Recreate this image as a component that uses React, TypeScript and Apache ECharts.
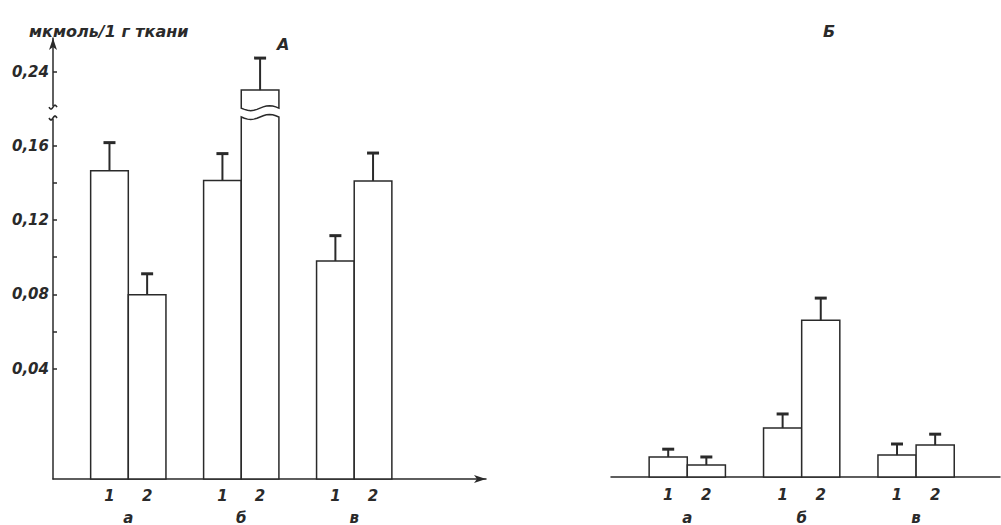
import React, { useEffect, useRef } from "react";
import * as echarts from "echarts";

// Groups and sub-bars
const groups = ["а", "б", "в"];
const subLabels = ["1", "2"];

// Panel А: mean values (мкмоль/1 г ткани) and upper error limits
const valuesA = [0.1465, 0.0798, 0.1412, 0.2303, 0.098, 0.141];
const errTopA = [0.1616, 0.0911, 0.1557, 0.2475, 0.1116, 0.156];

// Panel Б
const valuesB = [0.0108, 0.0065, 0.0264, 0.0845, 0.0118, 0.0172];
const errTopB = [0.015, 0.0108, 0.034, 0.0965, 0.0178, 0.0231];

// Y axis labels / ticks for panel А and its break
const yLabelValues = [0.04, 0.08, 0.12, 0.16, 0.24];
const yTickValues = [0.04, 0.06, 0.08, 0.1, 0.12, 0.14, 0.16, 0.24];
const breakStart = 0.1754;
const breakEnd = 0.2206;

const INK = "#2a2a2a";
const FONT = "'DejaVu Sans', 'Liberation Sans', sans-serif";

const slot = (i: number) => Math.floor(i / 2) * 3 + (i % 2) + 1.5;

function buildBars(vals: number[]) {
  return vals.map((v, i) => [slot(i), v]);
}
function buildErr(vals: number[], tops: number[]) {
  return vals.map((v, i) => [slot(i), v, tops[i]]);
}

const wave = (xl: number, xr: number, y: number, amp: number, n = 12) => {
  const pts: number[][] = [];
  for (let k = 0; k <= n; k++) {
    const t = k / n;
    pts.push([xr - (xr - xl) * t, y - amp * Math.sin(2 * Math.PI * t)]);
  }
  return pts;
};

const makeBarRender = (withBreak: boolean) => (params: any, api: any) => {
  const x = api.value(0);
  const v = api.value(1);
  const cs = params.coordSys;
  const bottom = cs.y + cs.height;
  const w = api.size([1, 0])[0];
  const c = api.coord([x, v]);
  const xl = c[0] - w / 2;
  const xr = c[0] + w / 2;
  const style = { fill: "#fff", stroke: INK, lineWidth: 1.5 };
  if (withBreak && v > breakEnd) {
    const yS = api.coord([x, breakStart])[1];
    const yE = api.coord([x, breakEnd])[1];
    return {
      type: "group",
      children: [
        {
          type: "polygon",
          shape: { points: [[xl, bottom], [xr, bottom], ...wave(xl, xr, yS, 2.5)] },
          style,
        },
        {
          type: "polygon",
          shape: { points: [[xl, c[1]], [xr, c[1]], ...wave(xl, xr, yE, 2.5)] },
          style,
        },
      ],
    };
  }
  return {
    type: "rect",
    shape: { x: xl, y: c[1], width: w, height: bottom - c[1] },
    style,
  };
};

const errRender = (params: any, api: any) => {
  const x = api.value(0);
  const p0 = api.coord([x, api.value(1)]);
  const p1 = api.coord([x, api.value(2)]);
  return {
    type: "group",
    children: [
      {
        type: "line",
        shape: { x1: p0[0], y1: p0[1], x2: p1[0], y2: p1[1] },
        style: { stroke: INK, lineWidth: 2 },
      },
      {
        type: "line",
        shape: { x1: p1[0] - 6, y1: p1[1], x2: p1[0] + 6, y2: p1[1] },
        style: { stroke: INK, lineWidth: 3 },
      },
    ],
  };
};

const axisBreakRender = (params: any, api: any) => {
  const x = api.value(0);
  const pS = api.coord([x, api.value(1)]);
  const pE = api.coord([x, api.value(2)]);
  const tilde = (y: number) => ({
    type: "polyline",
    shape: { points: wave(pS[0] - 4, pS[0] + 4, y, 2, 10) },
    style: { stroke: INK, lineWidth: 1.6, fill: "none" },
  });
  return {
    type: "group",
    children: [
      { type: "rect", shape: { x: pS[0] - 3, y: pE[1] - 2, width: 6, height: pS[1] - pE[1] + 4 }, style: { fill: "#fff" } },
      tilde(pE[1] - 1),
      tilde(pS[1] + 1),
    ],
  };
};

const subLabelAt = (v: number) => {
  const r = ((v - 1.5) % 3 + 3) % 3;
  return subLabels[Math.round(r)] ?? "";
};
const groupAt = (v: number) => groups[Math.round((v - 2) / 3)] ?? "";

const labelStyle = {
  color: INK,
  fontFamily: FONT,
  fontStyle: "italic" as const,
  fontWeight: "bold" as const,
  fontSize: 14,
};

const subCustom = [1.5, 2.5, 4.5, 5.5, 7.5, 8.5];

export default function App() {
  const ref = useRef<HTMLDivElement>(null);
  useEffect(() => {
    if (!ref.current) return;
    const chart = echarts.init(ref.current, null, { renderer: "svg" });
    chart.setOption({
      animation: false,
      backgroundColor: "#fff",
      title: [
        { text: "мкмоль/1 г ткани", left: 24, top: 18, textStyle: { ...labelStyle, fontSize: 16 } },
        { text: "А", left: 272, top: 31, textStyle: { ...labelStyle, fontSize: 16 } },
        { text: "Б", left: 818, top: 18, textStyle: { ...labelStyle, fontSize: 16 } },
      ],
      grid: [
        { left: 53, top: 38, right: 515, bottom: 46 },
        { left: 611, top: 38, right: 1, bottom: 48 },
      ],
      xAxis: [
        {
          gridIndex: 0,
          type: "value",
          min: 0,
          max: 11.5,
          splitLine: { show: false },
          axisTick: { show: false },
          axisLine: { onZero: false, lineStyle: { color: INK, width: 1.5 }, symbol: ["none", "arrow"], symbolSize: [6, 12] },
          axisLabel: { ...labelStyle, fontSize: 15, customValues: subCustom, formatter: (v: number) => subLabelAt(v), margin: 9 },
        },
        {
          gridIndex: 0,
          type: "value",
          min: 0,
          max: 11.5,
          position: "bottom",
          offset: 24,
          splitLine: { show: false },
          axisTick: { show: false },
          axisLine: { show: false, onZero: false },
          axisLabel: { ...labelStyle, fontSize: 15, customValues: [2, 5, 8], formatter: (v: number) => groupAt(v), margin: 7 },
        },
        {
          gridIndex: 1,
          type: "value",
          min: 0,
          max: 10.2,
          splitLine: { show: false },
          axisTick: { show: false },
          axisLine: { onZero: false, lineStyle: { color: INK, width: 1.5 } },
          axisLabel: { ...labelStyle, fontSize: 15, customValues: subCustom, formatter: (v: number) => subLabelAt(v), margin: 10 },
        },
        {
          gridIndex: 1,
          type: "value",
          min: 0,
          max: 10.2,
          position: "bottom",
          offset: 26,
          splitLine: { show: false },
          axisTick: { show: false },
          axisLine: { show: false, onZero: false },
          axisLabel: { ...labelStyle, fontSize: 15, customValues: [2, 5, 8], formatter: (v: number) => groupAt(v), margin: 7 },
        },
      ],
      yAxis: [
        {
          gridIndex: 0,
          type: "value",
          min: -0.0192,
          max: 0.2583,
          splitLine: { show: false },
          breaks: [{ start: breakStart, end: breakEnd, gap: "2%" }],
          breakArea: { show: false },
          axisLine: { show: true, onZero: false, lineStyle: { color: INK, width: 1.5 }, symbol: ["none", "arrow"], symbolSize: [6, 12] },
          axisTick: { show: true, inside: true, length: 4, customValues: yTickValues, lineStyle: { color: INK, width: 1.5 } },
          axisLabel: {
            ...labelStyle,
            fontSize: 15,
            customValues: yLabelValues,
            margin: 4,
            formatter: (v: number) => v.toFixed(2).replace(".", ","),
          },
        },
        {
          gridIndex: 1,
          type: "value",
          min: 0,
          max: 0.2368,
          show: false,
          splitLine: { show: false },
        },
      ],
      series: [
        {
          type: "custom",
          xAxisIndex: 0,
          yAxisIndex: 0,
          data: buildBars(valuesA),
          renderItem: makeBarRender(true),
          z: 2,
        },
        {
          type: "custom",
          xAxisIndex: 0,
          yAxisIndex: 0,
          data: buildErr(valuesA, errTopA),
          renderItem: errRender,
          z: 3,
        },
        {
          type: "custom",
          xAxisIndex: 0,
          yAxisIndex: 0,
          data: [[0, breakStart, breakEnd]],
          renderItem: axisBreakRender,
          clip: false,
          z: 4,
        },
        {
          type: "custom",
          xAxisIndex: 2,
          yAxisIndex: 1,
          data: buildBars(valuesB),
          renderItem: makeBarRender(false),
          z: 2,
        },
        {
          type: "custom",
          xAxisIndex: 2,
          yAxisIndex: 1,
          data: buildErr(valuesB, errTopB),
          renderItem: errRender,
          z: 3,
        },
      ],
    });
    return () => chart.dispose();
  }, []);
  return (
    <div
      ref={ref}
      style={{ position: "absolute", left: 0, top: 0, width: 1001, height: 525, background: "#fff" }}
    />
  );
}
